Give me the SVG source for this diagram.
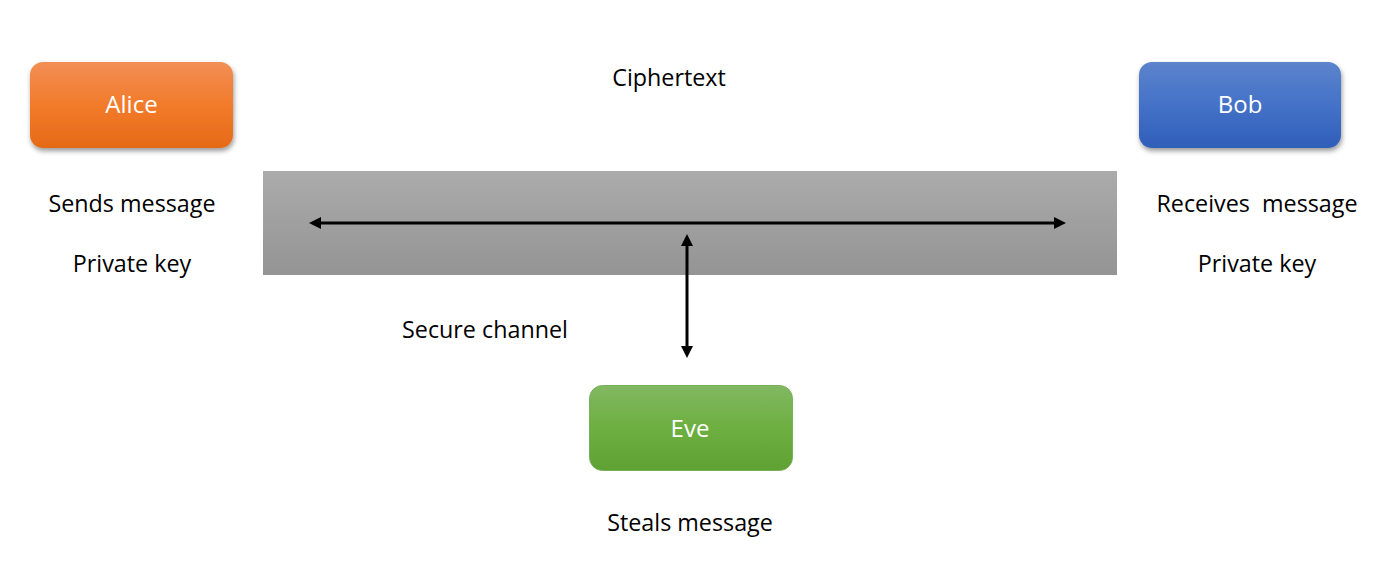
<svg xmlns="http://www.w3.org/2000/svg" width="1396" height="582" viewBox="0 0 1396 582">
<style>
.lbl{font-family:"Open Sans",Lato,"Liberation Sans",sans-serif;font-size:23.3px;fill:#000;text-anchor:middle;white-space:pre}
.nl{font-family:"Open Sans",Lato,"Liberation Sans",sans-serif;font-size:24px;fill:#fff;text-anchor:middle}
.conn{stroke:#000;stroke-width:3;fill:none;marker-start:url(#ah);marker-end:url(#ah)}
</style>
<defs>
<linearGradient id="gA" x1="0" y1="0" x2="0" y2="1"><stop offset="0" stop-color="#F28E55"/><stop offset="0.5" stop-color="#F27B2B"/><stop offset="1" stop-color="#E56A17"/></linearGradient>
<linearGradient id="gB" x1="0" y1="0" x2="0" y2="1"><stop offset="0" stop-color="#5C83CC"/><stop offset="0.5" stop-color="#4472C8"/><stop offset="1" stop-color="#2F5EB8"/></linearGradient>
<linearGradient id="gE" x1="0" y1="0" x2="0" y2="1"><stop offset="0" stop-color="#82B862"/><stop offset="0.5" stop-color="#6DAF40"/><stop offset="1" stop-color="#5FA133"/></linearGradient>
<linearGradient id="gG" x1="0" y1="0" x2="0" y2="1"><stop offset="0" stop-color="#ABABAB"/><stop offset="1" stop-color="#949494"/></linearGradient>
<filter id="sh" x="-10%" y="-10%" width="125%" height="140%"><feDropShadow dx="1" dy="3" stdDeviation="2.5" flood-color="#000" flood-opacity="0.4"/></filter>
<marker id="ah" viewBox="0 0 10 10" refX="5" refY="5" markerWidth="4" markerHeight="4" orient="auto-start-reverse" markerUnits="strokeWidth"><path d="M0,0 L10,5 L0,10 z" fill="#000"/></marker>
</defs>
<rect id="channel" x="263" y="171" width="854" height="104" fill="url(#gG)"/>
<g id="connectors">
<line class="conn" x1="315" y1="223" x2="1060" y2="223"/>
<line class="conn" x1="687" y1="240" x2="687" y2="352"/>
</g>
<g id="alice">
<rect x="30" y="62" width="203" height="86" rx="13" fill="url(#gA)" filter="url(#sh)"/>
<text class="nl" x="131.5" y="113">Alice</text>
</g>
<g id="bob">
<rect x="1139" y="62" width="202" height="86" rx="13" fill="url(#gB)" filter="url(#sh)"/>
<text class="nl" x="1240" y="113">Bob</text>
</g>
<g id="eve">
<rect x="589.5" y="385.5" width="203" height="85" rx="13" fill="url(#gE)" stroke="#78B05A" stroke-width="1"/>
<text class="nl" x="690" y="437">Eve</text>
</g>
<text class="lbl" x="669" y="86">Ciphertext</text>
<text class="lbl" x="132" y="212">Sends message</text>
<text class="lbl" x="132" y="272">Private key</text>
<text class="lbl" x="1257" y="212">Receives  message</text>
<text class="lbl" x="1257" y="272">Private key</text>
<text class="lbl" x="485" y="338">Secure channel</text>
<text class="lbl" x="690" y="531">Steals message</text>
</svg>
